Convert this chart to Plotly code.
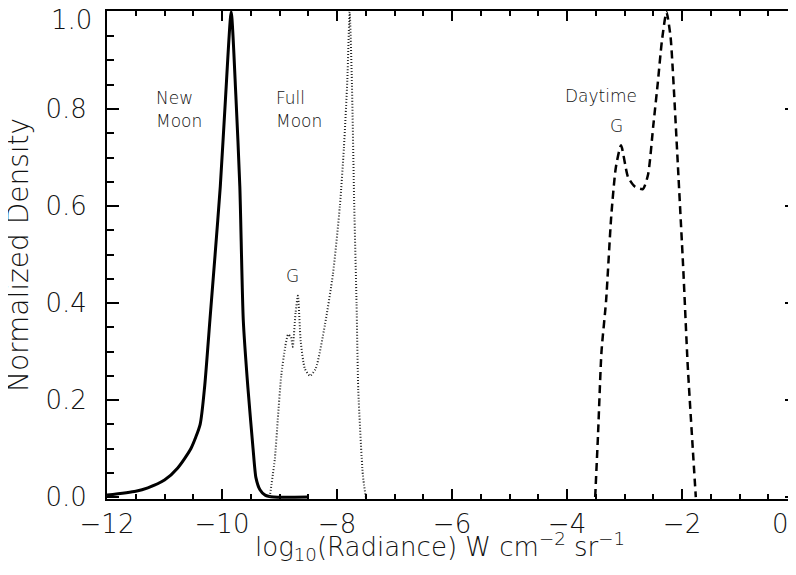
import plotly.graph_objects as go

# New Moon (solid)
new_x = [-12.0, -11.5, -11.29, -11.0, -10.77, -10.54, -10.38, -10.30, -10.21, -10.12, -10.03, -9.94, -9.84,
         -9.76, -9.69, -9.63, -9.55, -9.46, -9.41, -9.34, -9.25, -9.1, -8.5]
new_y = [0.004, 0.012, 0.019, 0.035, 0.06, 0.10, 0.15, 0.23, 0.365, 0.50, 0.64, 0.82, 1.0,
         0.83, 0.64, 0.365, 0.226, 0.10, 0.04, 0.015, 0.004, 0.0, 0.0]

# Full Moon (dotted)
full_x = [-9.17, -9.08, -9.03, -8.97, -8.90, -8.85, -8.80, -8.77, -8.72, -8.68, -8.63, -8.56, -8.47,
          -8.37, -8.21, -8.07, -7.95, -7.88, -7.82, -7.78, -7.74, -7.70, -7.66, -7.63, -7.55, -7.50]
full_y = [0.0, 0.08, 0.16, 0.25, 0.31, 0.335, 0.33, 0.31, 0.38, 0.415, 0.32, 0.265, 0.25,
          0.265, 0.355, 0.46, 0.60, 0.72, 0.86, 1.0, 0.85, 0.6, 0.40, 0.22, 0.045, 0.0]

# Daytime (dashed)
day_x = [-3.51, -3.46, -3.40, -3.32, -3.23, -3.15, -3.06, -2.94, -2.82, -2.68, -2.59, -2.50, -2.42,
         -2.35, -2.27, -2.20, -2.16, -2.07, -1.98, -1.90, -1.81, -1.76]
day_y = [0.0, 0.13, 0.30, 0.405, 0.58, 0.68, 0.725, 0.66, 0.64, 0.635, 0.665, 0.765, 0.855,
         0.94, 1.0, 0.95, 0.88, 0.68, 0.475, 0.27, 0.095, 0.0]

x_ticks = [-12, -10, -8, -6, -4, -2, 0]
x_labels = ["\u221212", "\u221210", "\u22128", "\u22126", "\u22124", "\u22122", ""]
y_ticks = [0.0, 0.2, 0.4, 0.6, 0.8, 1.0]
y_labels = ["0.0", "0.2", "0.4", "0.6", "0.8", ""]

FONT = "DejaVu Sans"
TXT = "#111111"

fig = go.Figure()
fig.add_trace(go.Scatter(x=new_x, y=new_y, mode="lines",
                         line=dict(color="black", width=3, shape="spline", smoothing=0.6), name="New Moon"))
fig.add_trace(go.Scatter(x=full_x, y=full_y, mode="lines",
                         line=dict(color="#222222", width=2, dash="1px,2px", shape="spline", smoothing=0.6),
                         name="Full Moon"))
fig.add_trace(go.Scatter(x=day_x, y=day_y, mode="lines",
                         line=dict(color="black", width=2.5, dash="8px,5px", shape="spline", smoothing=0.6),
                         name="Daytime"))

labels = [
    (-10.99, 0.808, "New"), (-10.99, 0.761, "Moon"),
    (-8.9, 0.808, "Full"), (-8.9, 0.761, "Moon"),
    (-3.88, 0.812, "Daytime"),
]
for x, y, t in labels:
    fig.add_annotation(x=x, y=y, text=t, showarrow=False, xanchor="left", yanchor="middle", align="left",
                       xshift=-10, yshift=7,
                       borderpad=0, font=dict(family=FONT, size=17, color=TXT, weight=200))
fig.add_annotation(x=-3.06, y=0.75, text="G", showarrow=False, xanchor="center", yanchor="middle",
                   xshift=-5, yshift=7, borderpad=0, font=dict(family=FONT, size=17, color=TXT, weight=200))
fig.add_annotation(x=-8.68, y=0.441, text="G", showarrow=False, xanchor="center", yanchor="middle",
                   xshift=-5, yshift=7, borderpad=0, font=dict(family=FONT, size=17, color=TXT, weight=200))

# end tick labels placed so they stay inside the page, as in the reference
fig.add_annotation(x=0, xref="paper", xanchor="right", align="right", xshift=-14, y=1.0, yref="y",
                   yanchor="middle", yshift=-8, text="1.0", showarrow=False, borderpad=0,
                   font=dict(family=FONT, size=26, color=TXT, weight=200))
fig.add_annotation(x=0, xref="x", xanchor="center", xshift=-17, y=0, yref="paper",
                   yanchor="middle", yshift=-25, text="0", showarrow=False, borderpad=0,
                   font=dict(family=FONT, size=26, color=TXT, weight=200))

# axis titles
fig.add_annotation(x=0.5, xref="paper", xanchor="center", xshift=-12, y=0, yref="paper",
                   yanchor="middle", yshift=-47, showarrow=False, borderpad=0,
                   text="log<sub>10</sub>(Radiance) W cm<sup>\u22122</sup> sr<sup>\u22121</sup>",
                   font=dict(family=FONT, size=26, color=TXT, weight=200))
fig.add_annotation(x=0, xref="paper", xanchor="center", xshift=-89, y=0.5, yref="paper",
                   yanchor="middle", textangle=-90, showarrow=False, borderpad=0,
                   text="Normalized Density",
                   font=dict(family=FONT, size=28, color=TXT, weight=200))

axis_common = dict(showline=True, linecolor="black", linewidth=2, mirror="allticks",
                   ticks="inside", tickcolor="black", tickwidth=1.5, showgrid=False, zeroline=False,
                   tickfont=dict(family=FONT, size=26, color=TXT, weight=200))

fig.update_xaxes(range=[-12, 0], tickvals=x_ticks, ticktext=x_labels,
                 ticklen=10, ticklabelstandoff=1,
                 minor=dict(ticks="inside", dtick=0.5, ticklen=5, tickcolor="black", tickwidth=1.5),
                 **axis_common)
fig.update_yaxes(range=[-0.004, 1.002], tickvals=y_ticks, ticktext=y_labels,
                 ticklen=12, ticklabelstandoff=13,
                 minor=dict(ticks="inside", dtick=0.05, ticklen=7, tickcolor="black", tickwidth=1.5),
                 **axis_common)

fig.update_layout(width=796, height=575, showlegend=False,
                  margin=dict(l=99, r=7, t=3, b=84, autoexpand=False),
                  plot_bgcolor="white", paper_bgcolor="white")

fig.write_html("out.html")
